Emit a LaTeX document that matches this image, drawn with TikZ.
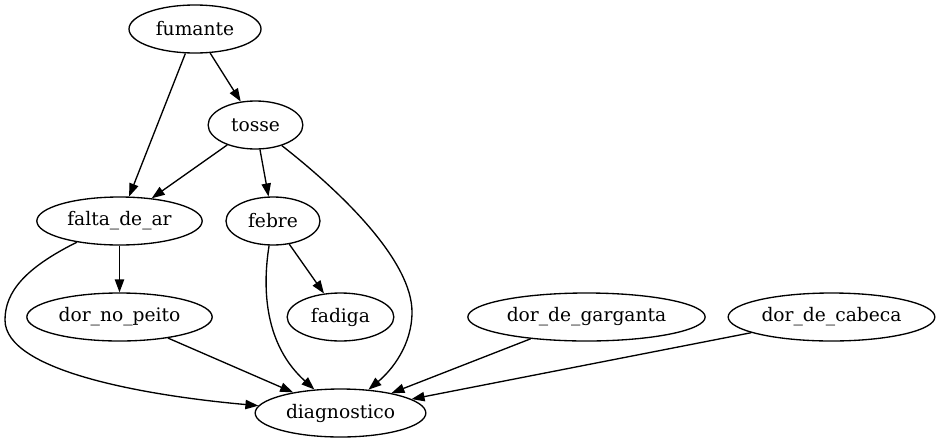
\documentclass[tikz,border=0pt]{standalone}
\usepackage{fontspec}
\setmainfont{DejaVu Serif}
\usetikzlibrary{shapes.geometric,arrows.meta}
\begin{document}
\begin{tikzpicture}[x=0.75pt,y=-0.75pt,>={Triangle[length=9.75pt,width=7pt]},
  var/.style={draw, ellipse, line width=1pt, inner sep=0pt, minimum height=36pt,
    font=\fontsize{14}{16}\selectfont},
  edge/.style={->, line width=1pt}]
\useasboundingbox (0,0) rectangle (941,443);
% Variables (one rank every 96 units)
\node[var, minimum width=99pt]  (fumante) at (195,29) {fumante};
\node[var, minimum width=71pt]  (tosse) at (255.5,125) {tosse};
\node[var, minimum width=124pt] (falta_de_ar) at (119.5,221) {falta\_de\_ar};
\node[var, minimum width=70.5pt] (febre) at (273,221) {febre};
\node[var, minimum width=139pt] (dor_no_peito) at (119.5,317) {dor\_no\_peito};
\node[var, minimum width=80pt]  (fadiga) at (340.5,317) {fadiga};
\node[var, minimum width=178pt] (dor_de_garganta) at (586.5,317) {dor\_de\_garganta};
\node[var, minimum width=155pt] (dor_de_cabeca) at (831.5,317) {dor\_de\_cabeca};
\node[var, minimum width=128pt] (diagnostico) at (340.5,413) {diagnostico};

% Straight dependencies
\foreach \a/\b in {fumante/tosse, fumante/falta_de_ar, tosse/falta_de_ar, tosse/febre,
  falta_de_ar/dor_no_peito, febre/fadiga, dor_no_peito/diagnostico,
  dor_de_garganta/diagnostico, dor_de_cabeca/diagnostico}
  \draw[edge] (\a) -- (\b);

% Curved dependencies into the diagnosis
\draw[edge] (tosse) .. controls (345,195) and (412,262) .. (412,312)
  .. controls (412,345) and (392,370) .. (diagnostico);
\draw[edge] (falta_de_ar) .. controls (25,268) and (5,292) .. (5,320)
  .. controls (5,372) and (150,396) .. (diagnostico);
\draw[edge] (febre) .. controls (262,290) and (265,345) .. (diagnostico);
\end{tikzpicture}
\end{document}
